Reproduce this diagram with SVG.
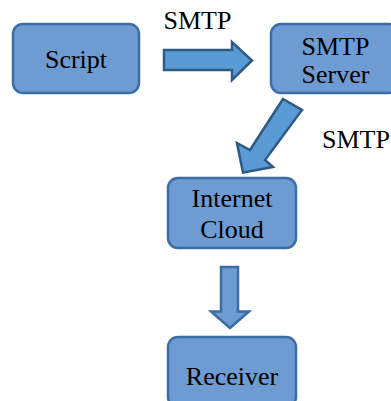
<svg xmlns="http://www.w3.org/2000/svg" width="391" height="401" viewBox="0 0 391 401">
  <style>
    .box { fill: #6E9BD1; stroke: #3A6EA5; stroke-width: 2.5; }
    .arrow { fill: #5B9BD5; stroke: #2E5A86; stroke-width: 2.5; stroke-linejoin: miter; }
    .arrow-soft { fill: #6E9BD1; stroke: #3A6EA5; stroke-width: 2.5; }
    .label { font-family: "Liberation Serif", "Times New Roman", serif; font-size: 26px; fill: #000; text-anchor: middle; }
  </style>
  <rect width="391" height="401" fill="#ffffff"/>

  <g id="connectors">
    <!-- Script to SMTP Server -->
    <polygon class="arrow" points="164,50 232,50 232,42 252,60.5 232,80 232,70 164,70"/>
    <!-- SMTP Server to Internet Cloud -->
    <polygon class="arrow" points="283,99 302,110 265,160 273,167 243,172.5 237,143 250,150"/>
    <!-- Internet Cloud to Receiver -->
    <polygon class="arrow-soft" points="221,267 238,267 238,311.5 249,311.5 230,328 211,311.5 221,311.5"/>
    <text class="label" x="197.5" y="29">SMTP</text>
    <text class="label" x="356" y="148">SMTP</text>
  </g>

  <g id="script">
    <rect class="box" x="13" y="24" width="126" height="69" rx="10"/>
    <text class="label" x="76" y="68">Script</text>
  </g>

  <g id="smtp-server">
    <rect class="box" x="271" y="24" width="128" height="69" rx="10"/>
    <text class="label" x="335.5" y="55">SMTP</text>
    <text class="label" x="335.5" y="83">Server</text>
  </g>

  <g id="internet-cloud">
    <rect class="box" x="168" y="178" width="128" height="70" rx="10"/>
    <text class="label" x="232" y="207">Internet</text>
    <text class="label" x="232" y="238">Cloud</text>
  </g>

  <g id="receiver">
    <rect class="box" x="168" y="337" width="128" height="70" rx="10"/>
    <text class="label" x="232" y="385">Receiver</text>
  </g>
</svg>
